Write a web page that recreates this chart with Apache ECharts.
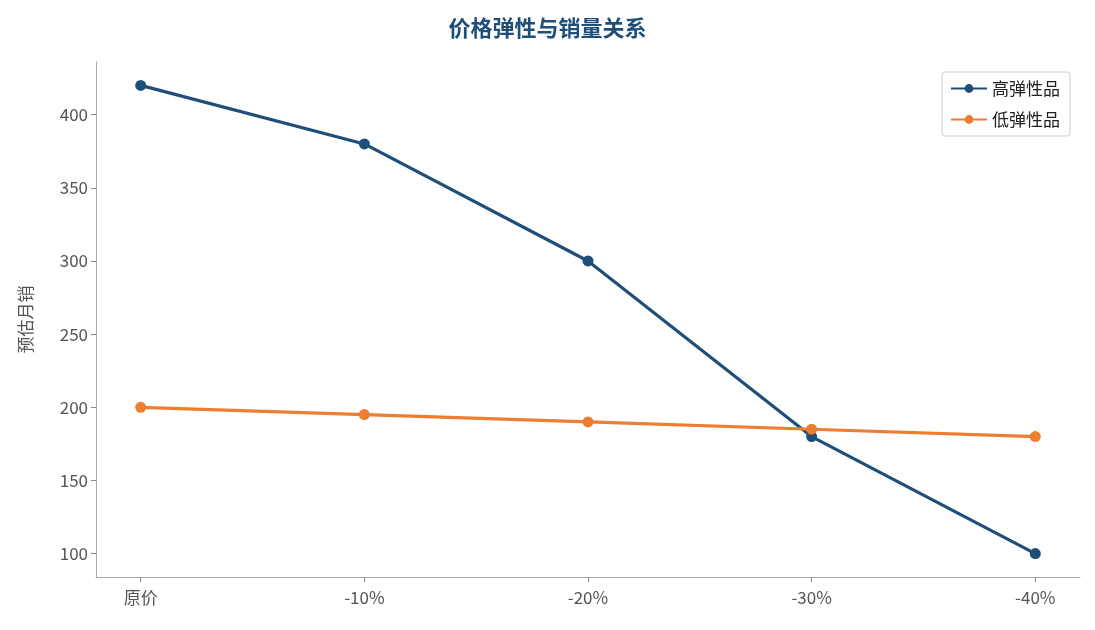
<!DOCTYPE html>
<html><head><meta charset="utf-8">
<script src="https://cdn.jsdelivr.net/npm/echarts@6/dist/echarts.min.js"></script>
<style>html,body{margin:0;padding:0}#c{width:1095px;height:630px}</style>
</head><body><div id="c"></div>
<script>
const categories = ['原价','-10%','-20%','-30%','-40%'];
const highElastic = [420,380,300,180,100];
const lowElastic = [200,195,190,185,180];
const yTicks = [100,150,200,250,300,350,400];
const font = '"Noto Sans CJK SC","Noto Sans",sans-serif';
const chart = echarts.init(document.getElementById('c'));
const idx = categories.map((_, i) => i);
chart.setOption({
  animation:false,
  title:{text:'价格弹性与销量关系',left:'center',top:12,textStyle:{fontFamily:font,fontSize:22,fontWeight:'bold',color:'#1f4e79'}},
  legend:{right:25,top:72,orient:'vertical',itemWidth:36,itemHeight:11,itemGap:14,padding:[8,10,8,8],
    borderColor:'#ccc',borderWidth:1,borderRadius:3,textStyle:{fontFamily:font,fontSize:17,color:'#222'}},
  grid:{left:96,right:15,top:62,bottom:53},
  xAxis:{type:'value',min:-0.2,max:4.2,
    axisLine:{onZero:false,lineStyle:{color:'#aaa'}},splitLine:{show:false},
    axisTick:{customValues:idx,length:5,lineStyle:{color:'#888'}},
    axisLabel:{customValues:idx,formatter:v=>categories[Math.round(v)],fontFamily:font,fontSize:17,color:'#555',margin:12}},
  yAxis:{type:'value',min:84,max:436,name:'预估月销',nameLocation:'middle',nameGap:62,
    nameTextStyle:{fontFamily:font,fontSize:17,color:'#555'},
    axisLine:{show:true,onZero:false,lineStyle:{color:'#aaa'}},splitLine:{show:false},
    axisTick:{show:true,customValues:yTicks,length:5,lineStyle:{color:'#888'}},
    axisLabel:{customValues:yTicks,fontFamily:font,fontSize:17,color:'#555'}},
  series:[
    {name:'高弹性品',type:'line',data:highElastic.map((v,i)=>[i,v]),symbol:'circle',symbolSize:11,
      lineStyle:{width:3.2,color:'#1f4e79'},itemStyle:{color:'#1f4e79'}},
    {name:'低弹性品',type:'line',data:lowElastic.map((v,i)=>[i,v]),symbol:'circle',symbolSize:11,
      lineStyle:{width:3.2,color:'#ed7d31'},itemStyle:{color:'#ed7d31'}}
  ]
});
</script></body></html>
